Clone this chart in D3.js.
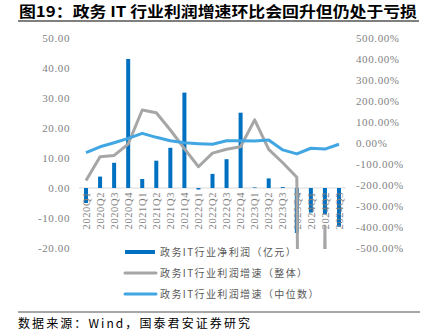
<!DOCTYPE html>
<html><head><meta charset="utf-8">
<script src="https://cdn.jsdelivr.net/npm/d3@7"></script>
<style>
body{margin:0;background:#fff;}
svg{display:block;}
</style></head>
<body>
<svg id="chart" width="429" height="336"></svg>
<script>
const categories = ["2020Q1","2020Q2","2020Q3","2020Q4","2021Q1","2021Q2","2021Q3","2021Q4","2022Q1","2022Q2","2022Q3","2022Q4","2023Q1","2023Q2","2023Q3","2023Q4","2024Q1","2024Q2","2024Q3"];
const netProfit = [-5, 3.8, 8.4, 43, 3.0, 9.1, 13.4, 31.8, -0.5, 4.7, 9.6, 25.1, 0.2, 3.2, 0.3, -15, -8.2, -8.8, -12.9];
const growthOverall = [-179, -65, -59, -5, 157, 144, 62, -27, -113, -48, -30, -18, 110, -30, -94, -163, -8000, -395, -8000];
const growthMedian = [-46, -18, 1, 22, 46, 27, 11, 1, -3, -6, 11, 11, 10, 14, -33, -52, -25, -29, -6];
const leftTicks = [50, 40, 30, 20, 10, 0, -10, -20];
const rightTicks = [500, 400, 300, 200, 100, 0, -100, -200, -300, -400, -500];
const legendLabels = ["政务IT行业净利润（亿元）", "政务IT行业利润增速（整体）", "政务IT行业利润增速（中位数）"];
const title = "图19：政务 IT 行业利润增速环比会回升但仍处于亏损";
const source = "数据来源：Wind，国泰君安证券研究";

const C_BAR = "#0070C0", C_GRAY = "#A6A6A6", C_MED = "#41A6E2", C_TXT = "#7F7F7F";
const svg = d3.select("#chart");
const plotL = 79, plotR = 346, plotT = 38, plotB = 248;

const x = d3.scaleBand().domain(categories).range([plotL, plotR]).padding(0);
const yL = d3.scaleLinear().domain([-20, 50]).range([plotB, plotT]);
const yR = d3.scaleLinear().domain([-500, 500]).range([plotB, plotT]);
const cx = d => x(d) + x.bandwidth() / 2;

// title
svg.append("text").attr("x", 19).attr("y", 16.5)
  .attr("font-family", "'Noto Sans CJK SC', sans-serif").attr("font-weight", "bold")
  .attr("font-size", 15).attr("fill", "#000").attr("textLength", 398).attr("lengthAdjust", "spacingAndGlyphs")
  .text(title);
svg.append("line").attr("x1", 18).attr("x2", 419).attr("y1", 21).attr("y2", 21)
  .attr("stroke", "#555").attr("stroke-width", 1.5);

// left axis
const axL = d3.axisLeft(yL).tickValues(leftTicks).tickSize(0).tickPadding(0).tickFormat(d => d3.format(".2f")(d).replace("−", "-"));
const gL = svg.append("g").attr("transform", `translate(70,0)`).call(axL);
gL.select(".domain").remove();
gL.selectAll("text").attr("font-family", "'Liberation Serif', serif").attr("font-size", 11)
  .attr("letter-spacing", 0.6).attr("fill", C_TXT);

// right axis
const axR = d3.axisRight(yR).tickValues(rightTicks).tickSize(0).tickPadding(0).tickFormat(d => d3.format(".2f")(d).replace("−", "-") + "%");
const gR = svg.append("g").attr("transform", `translate(356,0)`).call(axR);
gR.select(".domain").remove();
gR.selectAll("text").attr("font-family", "'Liberation Serif', serif").attr("font-size", 11)
  .attr("letter-spacing", 0.6).attr("fill", C_TXT);

// zero line
svg.append("line").attr("x1", plotL).attr("x2", plotR).attr("y1", yL(0)).attr("y2", yL(0))
  .attr("stroke", "#D9D9D9").attr("stroke-width", 1);

// bars
svg.append("g").selectAll("rect").data(categories).join("rect")
  .attr("x", d => cx(d) - 2).attr("width", 4)
  .attr("y", (d, i) => Math.min(yL(netProfit[i]), yL(0)))
  .attr("height", (d, i) => Math.abs(yL(netProfit[i]) - yL(0)))
  .attr("fill", C_BAR);

// x tick labels
svg.append("g").selectAll("text").data(categories).join("text")
  .attr("transform", d => `translate(${cx(d)},192) rotate(-90)`)
  .attr("text-anchor", "end").attr("dy", "0.35em")
  .attr("font-family", "'Liberation Serif', serif").attr("font-size", 10.5).attr("letter-spacing", 0.6)
  .attr("fill", C_TXT).text(d => d);

// clip
svg.append("clipPath").attr("id", "clip").append("rect")
  .attr("x", 0).attr("y", plotT - 10).attr("width", 429).attr("height", plotB - plotT + 11);

const line = d3.line().x((d, i) => cx(categories[i])).y(d => yR(d));
svg.append("path").datum(growthOverall).attr("clip-path", "url(#clip)")
  .attr("d", line).attr("fill", "none").attr("stroke", C_GRAY).attr("stroke-width", 3)
  .attr("stroke-linejoin", "round");
svg.append("path").datum(growthMedian)
  .attr("d", line).attr("fill", "none").attr("stroke", C_MED).attr("stroke-width", 3)
  .attr("stroke-linejoin", "round");

// legend
const legY = [252, 273, 294];
const lg = svg.append("g");
legendLabels.forEach((t, i) => {
  const g = lg.append("g").attr("transform", `translate(0,${legY[i]})`);
  if (i === 0) {
    g.append("rect").attr("x", 125).attr("y", -2).attr("width", 30).attr("height", 4).attr("fill", C_BAR);
  } else {
    g.append("line").attr("x1", 125).attr("x2", 156).attr("y1", 0).attr("y2", 0)
      .attr("stroke", i === 1 ? C_GRAY : C_MED).attr("stroke-width", 3).attr("stroke-linecap", "round");
  }
  g.append("text").attr("x", 160).attr("y", 0).attr("dy", "0.35em")
    .attr("font-family", "'Noto Sans CJK SC', sans-serif").attr("font-size", 10)
    .attr("letter-spacing", 1.4).attr("fill", "#595959").text(t);
});

// footer
svg.append("line").attr("x1", 18).attr("x2", 420).attr("y1", 312).attr("y2", 312)
  .attr("stroke", "#888").attr("stroke-width", 1.5);
svg.append("text").attr("x", 18).attr("y", 327.5)
  .attr("font-family", "'Noto Sans CJK SC', sans-serif").attr("font-size", 12)
  .attr("fill", "#000").attr("textLength", 232).attr("lengthAdjust", "spacing").text(source);
</script>
</body></html>
